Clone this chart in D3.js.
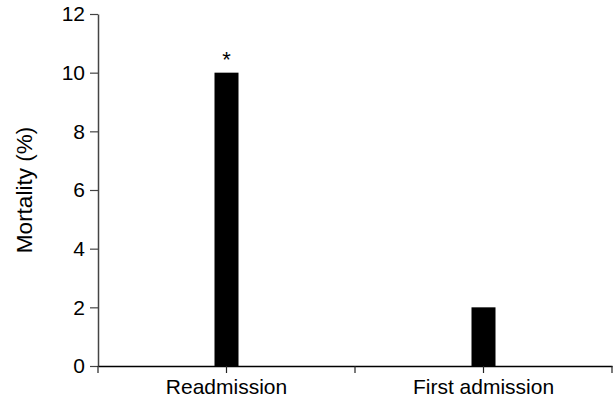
<!DOCTYPE html>
<html><head><meta charset="utf-8">
<script src="https://cdn.jsdelivr.net/npm/d3@7"></script>
<style>body{margin:0;background:#fff}svg{display:block}text{font-family:"Liberation Sans",Arial,sans-serif}</style>
</head><body>
<script>
const categories = ["Readmission", "First admission"];
const mortality = [10, 2];
const significance = ["*", ""];
const yTicks = [0, 2, 4, 6, 8, 10, 12];
const yLabel = "Mortality (%)";

const W = 614, H = 400;
const m = {left: 98, right: 2, top: 14, bottom: 34};
const svg = d3.select("body").append("svg").attr("width", W).attr("height", H);

const x = d3.scaleBand().domain(categories).range([m.left, W - m.right]).padding(0);
const y = d3.scaleLinear().domain([0, 12]).range([H - m.bottom, m.top]);

// y axis
const ya = svg.append("g").attr("transform", `translate(${m.left},0)`)
  .call(d3.axisLeft(y).tickValues(yTicks).tickSize(8).tickPadding(5).tickSizeOuter(0));
ya.attr("font-size", null).attr("font-family", null);
ya.select(".domain").attr("stroke", "#444").attr("stroke-width", 1.5);
ya.selectAll(".tick line").attr("stroke", "#444").attr("stroke-width", 1.2);
ya.selectAll("text").attr("font-size", 21).attr("fill", "#000");

// bars
const bw = 24;
svg.append("g").selectAll("rect").data(categories).join("rect")
  .attr("x", (d) => x(d) + x.bandwidth() / 2 - bw / 2)
  .attr("y", (d, i) => y(mortality[i]))
  .attr("width", bw)
  .attr("height", (d, i) => y(0) - y(mortality[i]))
  .attr("fill", "#000");

// significance marks
svg.append("g").selectAll("text").data(categories).join("text")
  .attr("x", (d) => x(d) + x.bandwidth() / 2)
  .attr("y", (d, i) => y(mortality[i]) - 6)
  .attr("text-anchor", "middle")
  .attr("font-size", 22)
  .text((d, i) => significance[i]);

// x axis
const xa = svg.append("g").attr("transform", `translate(0,${y(0)})`)
  .call(d3.axisBottom(x).tickSize(7).tickPadding(6).tickSizeOuter(0));
xa.attr("font-size", null).attr("font-family", null);
xa.select(".domain").attr("stroke", "#000").attr("stroke-width", 1.5);
xa.selectAll(".tick line").attr("stroke", "#222").attr("stroke-width", 1.2);
xa.selectAll("text").attr("font-size", 21).attr("fill", "#000");
// band edge ticks
const edges = [x(categories[0]), ...categories.map(c => x(c) + x.bandwidth())];
xa.append("g").selectAll("line").data(edges).join("line")
  .attr("x1", d => d).attr("x2", d => d).attr("y1", 0).attr("y2", 7)
  .attr("stroke", "#222").attr("stroke-width", 1.2);

// y label
svg.append("text")
  .attr("transform", `translate(32,${(y(0) + y(12)) / 2}) rotate(-90)`)
  .attr("text-anchor", "middle")
  .attr("font-size", 22.5)
  .text(yLabel);
</script>
</body></html>
